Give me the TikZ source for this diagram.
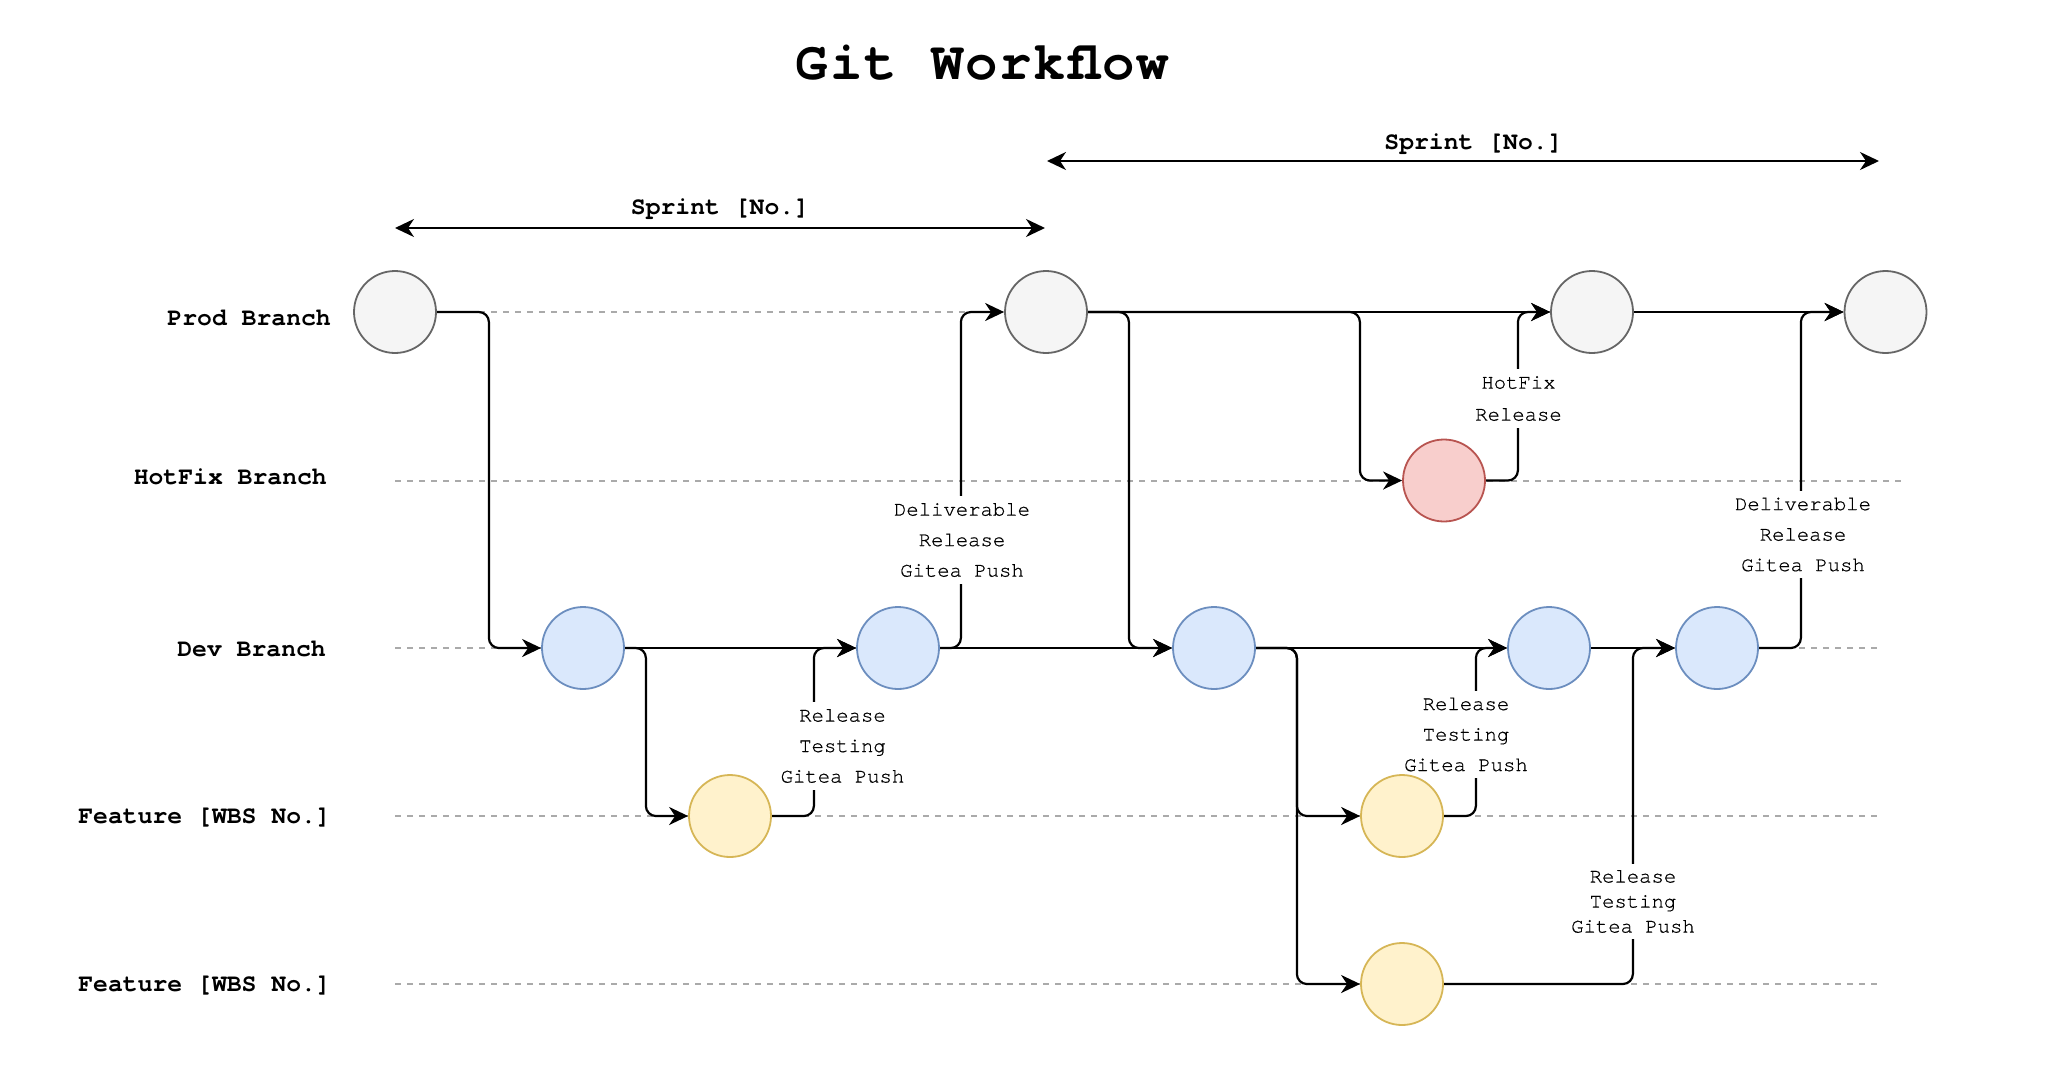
\documentclass[tikz,border=0pt]{standalone}
\usepackage{fontspec}
\newfontfamily\mono{TeX Gyre Cursor}
\newfontfamily\notefont[FakeBold=0.6]{TeX Gyre Cursor}
\newfontfamily\titlefont[LetterSpace=3.5]{TeX Gyre Cursor}
\usetikzlibrary{arrows.meta}
\pgfdeclarelayer{bg}
\pgfsetlayers{bg,main}
\definecolor{pfill}{HTML}{F5F5F5}\definecolor{pdraw}{HTML}{666666}
\definecolor{bfill}{HTML}{DAE8FC}\definecolor{bdraw}{HTML}{6C8EBF}
\definecolor{yfill}{HTML}{FFF2CC}\definecolor{ydraw}{HTML}{D6B656}
\definecolor{rfill}{HTML}{F8CECC}\definecolor{rdraw}{HTML}{B85450}
\definecolor{lanegray}{RGB}{170,170,170}
\tikzset{
  commit/.style={circle, minimum size=82pt, inner sep=0pt, line width=1.8pt},
  prodc/.style={commit, draw=pdraw, fill=pfill},
  devc/.style={commit, draw=bdraw, fill=bfill},
  featc/.style={commit, draw=ydraw, fill=yfill},
  hotc/.style={commit, draw=rdraw, fill=rfill},
  conn/.style={line width=2.2pt, rounded corners=10pt, ->},
  sprint/.style={line width=2.2pt, <->},
  lane/.style={draw=lanegray, line width=2pt, dash pattern=on 6pt off 6pt},
  rowlbl/.style={anchor=base east, inner sep=0pt, font=\mono\bfseries\fontsize{24.75}{30}\selectfont},
  boldtxt/.style={anchor=base, inner sep=0pt, font=\mono\bfseries\fontsize{24.75}{30}\selectfont},
  note/.style={fill=white, align=center, inner xsep=3pt, inner ysep=7pt, font=\notefont\fontsize{20.6}{30.5}\selectfont},
}
\begin{document}
\begin{tikzpicture}[x=1pt,y=-1pt, >={Stealth[length=19pt,width=18pt,inset=6pt]}]
\useasboundingbox (0,0) rectangle (2064,1077);
% title
\node[anchor=base, inner sep=0pt, font=\titlefont\bfseries\fontsize{54}{62}\selectfont] (title) at (982.5,79) {Git Workflow};
% row labels
\node[rowlbl] (lprod) at (331,325) {Prod Branch};
\node[rowlbl] (lhot) at (327,484) {HotFix Branch};
\node[rowlbl] (ldev) at (326,656) {Dev Branch};
\node[rowlbl] (lf1) at (331,823) {Feature [WBS No.]};
\node[rowlbl] (lf2) at (331,991.5) {Feature [WBS No.]};
% sprints
\coordinate (s1a) at (395,228); \coordinate (s1b) at (1045,228);
\coordinate (s2a) at (1047,161); \coordinate (s2b) at (1879,161);
\draw[sprint] (s1a) -- (s1b);
\draw[sprint] (s2a) -- (s2b);
\node[boldtxt] (sp1) at (720,214) {Sprint [No.]};
\node[boldtxt] (sp2) at (1473.5,149) {Sprint [No.]};
% commits
\node[prodc] (P1) at (395,312) {};
\node[prodc] (P2) at (1046,312) {};
\node[prodc] (P3) at (1592,312) {};
\node[prodc] (P4) at (1885.5,312) {};
\node[hotc] (H1) at (1444,480.5) {};
\node[devc] (D1) at (583,648) {};
\node[devc] (D2) at (898,648) {};
\node[devc] (D3) at (1214,648) {};
\node[devc] (D4) at (1549,648) {};
\node[devc] (D5) at (1717,648) {};
\node[featc] (F1) at (730,816) {};
\node[featc] (F2) at (1402,816) {};
\node[featc] (F3) at (1402,984) {};
\begin{pgfonlayer}{bg}
% lanes
\coordinate (pa) at (395,312);   \coordinate (pb) at (1885,312);
\coordinate (ha) at (395,480.5); \coordinate (hb) at (1906,480.5);
\coordinate (da) at (395,648);   \coordinate (db) at (1879,648);
\coordinate (fa) at (395,816);   \coordinate (fb) at (1879,816);
\coordinate (ga) at (395,984);   \coordinate (gb) at (1879,984);
\draw[lane] (pa) -- (pb);
\draw[lane] (ha) -- (hb);
\draw[lane] (da) -- (db);
\draw[lane] (fa) -- (fb);
\draw[lane] (ga) -- (gb);
% connectors
\draw[conn] (P1.east) -- ++(52,0) |- (D1.west);
\draw[conn] (D1.east) -- (D2.west);
\draw[conn] (D1.east) -- ++(21,0) |- (F1.west);
\draw[conn] (F1.east) -- ++(42,0) |- (D2.west);
\draw[conn] (D2.east) -- ++(21,0) |- (P2.west);
\draw[conn] (D2.east) -- (D3.west);
\draw[conn] (P2.east) -- ++(41,0) |- (D3.west);
\draw[conn] (P2.east) -- (P3.west);
\draw[conn] (P2.east) -- ++(272,0) |- (H1.west);
\draw[conn] (H1.east) -- ++(32,0) |- (P3.west);
\draw[conn] (P3.east) -- (P4.west);
\draw[conn] (D3.east) -- (D4.west);
\draw[conn] (D3.east) -- ++(41,0) |- (F2.west);
\draw[conn] (D3.east) -- ++(41,0) |- (F3.west);
\draw[conn] (F2.east) -- ++(32,0) |- (D4.west);
\draw[conn] (D4.east) -- (D5.west);
\draw[conn] (F3.east) -- ++(189,0) |- (D5.west);
\draw[conn] (D5.east) -- ++(42,0) |- (P4.west);
% connector labels
\node[note] (n1) at (842.5,746) {Release\\Testing\\Gitea Push};
\node[note] (n2) at (962,540) {Deliverable\\Release\\Gitea Push};
\node[note, font=\notefont\fontsize{20.6}{32}\selectfont] (n3) at (1518.5,398.5) {HotFix\\Release};
\node[note] (n4) at (1466,734.5) {Release\\Testing\\Gitea Push};
\node[note, font=\notefont\fontsize{20.6}{25}\selectfont, inner ysep=6pt] (n5) at (1633,901.5) {Release\\Testing\\Gitea Push};
\node[note] (n6) at (1803,534.5) {Deliverable\\Release\\Gitea Push};
\end{pgfonlayer}
\end{tikzpicture}
\end{document}
